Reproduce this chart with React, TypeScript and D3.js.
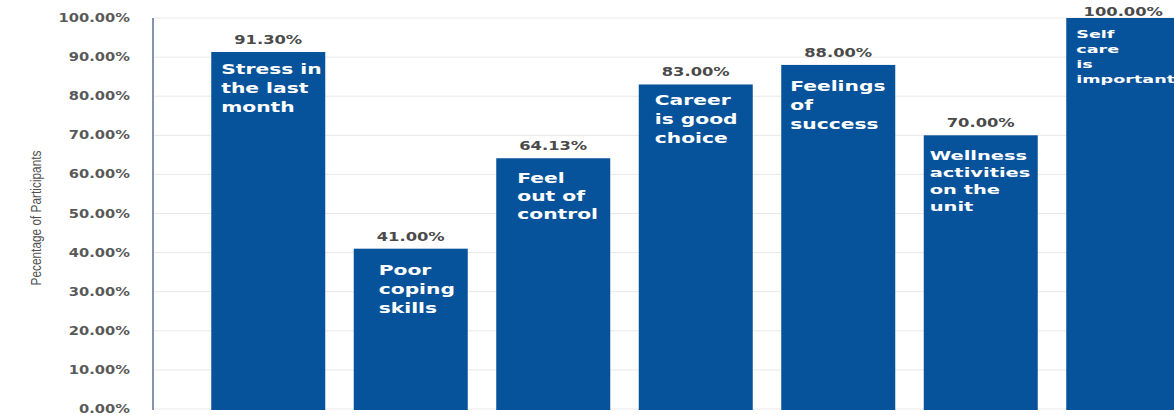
import React from "react";
import * as d3 from "d3";

const categories = [
  "Stress in the last month",
  "Poor coping skills",
  "Feel out of control",
  "Career is good choice",
  "Feelings of success",
  "Wellness activities on the unit",
  "Self care is important",
];
const values = [0.913, 0.41, 0.6413, 0.83, 0.88, 0.7, 1.0];
const barLines = [
  ["Stress in", "the last", "month"],
  ["Poor", "coping", "skills"],
  ["Feel", "out of", "control"],
  ["Career", "is good", "choice"],
  ["Feelings", "of", "success"],
  ["Wellness", "activities", "on the", "unit"],
  ["Self", "care", "is", "important"],
];
const yTicks = [0, 0.1, 0.2, 0.3, 0.4, 0.5, 0.6, 0.7, 0.8, 0.9, 1.0];
const yLabel = "Pecentage of Participants";

// label styling per bar (indent, font size, horizontal stretch, line gap, first baseline offset)
const labelStyle = [
  { dx: 10, fs: 13.5, sx: 1.5, gap: 19, dy: 22 },
  { dx: 25, fs: 13.5, sx: 1.5, gap: 19, dy: 26 },
  { dx: 21, fs: 13.5, sx: 1.5, gap: 18, dy: 25 },
  { dx: 16, fs: 13.5, sx: 1.5, gap: 19, dy: 21 },
  { dx: 9, fs: 13.5, sx: 1.5, gap: 19, dy: 26 },
  { dx: 6, fs: 12, sx: 1.62, gap: 17, dy: 25 },
  { dx: 10, fs: 11, sx: 1.6, gap: 15, dy: 20 },
];

const W = 1174;
const H = 415;
const BAR = "#07539b";
const FONT = "'DejaVu Sans', Verdana, sans-serif";

export default function App() {
  const x = d3
    .scaleBand<string>()
    .domain(categories)
    .range([197, 1194.5])
    .paddingInner(0.2)
    .paddingOuter(0.1);
  const y = d3.scaleLinear().domain([0, 1]).range([409, 18]);
  const pct = d3.format(".2%");
  const axisX = 153;

  return (
    <svg
      width={W}
      height={H}
      style={{ position: "absolute", left: 0, top: 0, background: "#fff" }}
    >
      {yTicks.map((t) => (
        <line
          key={"g" + t}
          x1={axisX}
          x2={W}
          y1={y(t)}
          y2={y(t)}
          stroke="#e8e8e8"
          strokeWidth={1}
        />
      ))}
      {yTicks.map((t) => (
        <text
          key={"t" + t}
          transform={`translate(130,${y(t) + 4}) scale(1.28,1)`}
          textAnchor="end"
          fontFamily={FONT}
          fontWeight="bold"
          fontSize={11.5}
          fill="#595959"
        >
          {pct(t)}
        </text>
      ))}
      <line
        x1={axisX}
        x2={axisX}
        y1={y(1)}
        y2={y(0) + 1}
        stroke="#8294b0"
        strokeWidth={2}
      />
      <text
        transform={`translate(41,218) rotate(-90)`}
        textAnchor="middle"
        fontFamily="'Liberation Sans Narrow', 'Arial Narrow', sans-serif"
        fontSize={14}
        fill="#505050"
        textLength={135}
        lengthAdjust="spacingAndGlyphs"
      >
        {yLabel}
      </text>
      {categories.map((c, i) => {
        const bx = x(c)!;
        const by = y(values[i]);
        const st = labelStyle[i];
        return (
          <g key={c}>
            <rect
              x={bx}
              y={by}
              width={x.bandwidth()}
              height={y(0) - by + 1}
              fill={BAR}
            />
            <text
              transform={`translate(${bx + x.bandwidth() / 2},${Math.max(by - 8, 16)}) scale(1.42,1)`}
              textAnchor="middle"
              fontFamily={FONT}
              fontWeight="bold"
              fontSize={11.5}
              fill="#4a4a4a"
            >
              {pct(values[i])}
            </text>
            {barLines[i].map((ln, j) => (
              <text
                key={j}
                transform={`translate(${bx + st.dx},${by + st.dy + j * st.gap}) scale(${st.sx},1)`}
                fontFamily={FONT}
                fontWeight="bold"
                fontSize={st.fs}
                fill="#ffffff"
              >
                {ln}
              </text>
            ))}
          </g>
        );
      })}
    </svg>
  );
}
